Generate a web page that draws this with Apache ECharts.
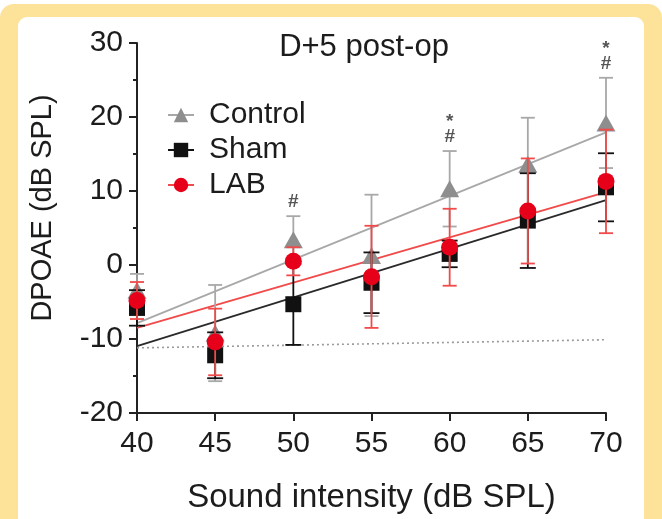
<!DOCTYPE html>
<html>
<head>
<meta charset="utf-8">
<script src="https://cdn.jsdelivr.net/npm/echarts@6/dist/echarts.min.js"></script>
<style>
html,body{margin:0;padding:0;background:#fff;}
#c{width:662px;height:519px;}
</style>
</head>
<body>
<div id="c"></div>
<script>
// ---- data ----
var intensity   = [40, 45, 50, 55, 60, 65, 70];
var controlMean = [-3.4, -9.2, 3.4, 1.3, 10.3, 13.6, 19.2];
var controlSD   = [2.2, 6.5, 3.2, 8.2, 5.1, 6.3, 6.1];
var shamMean    = [-5.8, -12.2, -5.3, -2.4, 1.5, 6.0, 10.5];
var shamSD      = [2.4, 3.1, 5.5, 4.1, 1.8, 6.4, 4.6];
var labMean     = [-4.8, -10.4, 0.5, -1.6, 2.4, 7.3, 11.3];
var labSD       = [2.5, 4.5, 1.9, 6.9, 5.2, 7.1, 7.0];
var noiseX      = [40, 70];
var noiseY      = [-11.2, -10.1];
var sigX        = [50, 60, 70];
var sigText     = ['#', '*\n#', '*\n#'];
var yTicks      = [-20, -10, 0, 10, 20, 30];
var xTicks      = [40, 45, 50, 55, 60, 65, 70];

var FONT = '"Liberation Sans", Arial, Helvetica, sans-serif';
var TXT = '#1c1c1c';

function fit(xs, ys) {
  var n = xs.length, mx = 0, my = 0;
  for (var i = 0; i < n; i++) { mx += xs[i]; my += ys[i]; }
  mx /= n; my /= n;
  var sxy = 0, sxx = 0;
  for (var j = 0; j < n; j++) { sxy += (xs[j]-mx)*(ys[j]-my); sxx += (xs[j]-mx)*(xs[j]-mx); }
  var b = sxy / sxx, a = my - b*mx;
  var x0 = xs[0], x1 = xs[n-1];
  return [[x0, a + b*x0], [x1, a + b*x1]];
}
function pairs(xs, ys) { return xs.map(function (x, i) { return [x, ys[i]]; }); }
function triples(xs, m, s) { return xs.map(function (x, i) { return [x, m[i], s[i]]; }); }

function errRender(color, capW, lw) {
  return function (params, api) {
    var x = api.value(0), m = api.value(1), s = api.value(2);
    var p1 = api.coord([x, m + s]), p2 = api.coord([x, m - s]);
    var hw = capW / 2;
    var st = { stroke: color, lineWidth: lw };
    return { type: 'group', children: [
      { type: 'line', shape: { x1: p1[0], y1: p1[1], x2: p2[0], y2: p2[1] }, style: st },
      { type: 'line', shape: { x1: p1[0]-hw, y1: p1[1], x2: p1[0]+hw, y2: p1[1] }, style: st },
      { type: 'line', shape: { x1: p2[0]-hw, y1: p2[1], x2: p2[0]+hw, y2: p2[1] }, style: st }
    ]};
  };
}

var C_GRAY = '#8e8e8e', C_GRAY_L = '#a8a8a8';
var C_BLACK = '#111111';
var C_RED = '#e60019', C_RED_L = '#f04a4a';

var sigData = sigX.map(function (x, i) {
  var k = intensity.indexOf(x);
  return { value: [x, controlMean[k] + controlSD[k]], txt: sigText[i] };
});

var chart = echarts.init(document.getElementById('c'), null, { renderer: 'canvas' });
chart.setOption({
  animation: false,
  backgroundColor: '#ffffff',
  graphic: [
    { type: 'rect', z: -10, silent: true, shape: { x: 0, y: 4, width: 662, height: 540, r: 14 }, style: { fill: '#fde29a' } },
    { type: 'rect', z: -9, silent: true, shape: { x: 18, y: 17, width: 626, height: 540, r: 9 }, style: { fill: '#ffffff' } }
  ],
  title: {
    text: 'D+5 post-op', left: 364, top: 32, textAlign: 'center', padding: 0,
    textStyle: { fontFamily: FONT, fontSize: 31, fontWeight: 'normal', color: TXT }
  },
  legend: {
    orient: 'vertical', left: 167, top: 100, itemGap: 5, itemWidth: 26, itemHeight: 18, padding: 0,
    textStyle: { fontFamily: FONT, fontSize: 30, color: TXT, padding: [0, 0, 0, 10] },
    data: [
      { name: 'Control', lineStyle: { color: C_GRAY_L, width: 2, opacity: 1 } },
      { name: 'Sham', lineStyle: { color: C_BLACK, width: 2, opacity: 1 } },
      { name: 'LAB', lineStyle: { color: C_RED_L, width: 2, opacity: 1 } }
    ],
    selectedMode: false
  },
  grid: { left: 137, right: 56, top: 43, bottom: 106, containLabel: false },
  xAxis: {
    type: 'value', min: 40, max: 70, interval: 5,
    name: 'Sound intensity (dB SPL)', nameLocation: 'middle', nameGap: 68,
    nameTextStyle: { fontFamily: FONT, fontSize: 33, color: TXT },
    axisLine: { onZero: false, lineStyle: { color: '#222', width: 2 } },
    axisTick: { show: true, length: 8, inside: false, lineStyle: { color: '#222', width: 2 } },
    axisLabel: { margin: 16, fontFamily: FONT, fontSize: 30, color: TXT,
      formatter: function (v) { return xTicks.indexOf(v) >= 0 ? String(v) : ''; } },
    splitLine: { show: false }
  },
  yAxis: {
    type: 'value', min: -20, max: 30, interval: 10,
    name: 'DPOAE (dB SPL)', nameLocation: 'middle', nameGap: 80,
    nameTextStyle: { fontFamily: FONT, fontSize: 29, color: TXT, padding: [0, 0, 0, 40] },
    axisLine: { onZero: false, lineStyle: { color: '#222', width: 2 } },
    axisTick: { show: true, length: 8, inside: false, lineStyle: { color: '#222', width: 2 } },
    minorTick: { show: true, splitNumber: 2, length: 4, lineStyle: { color: '#222', width: 2 } },
    axisLabel: { margin: 14, fontFamily: FONT, fontSize: 30, color: TXT,
      formatter: function (v) { return yTicks.indexOf(v) >= 0 ? String(v) : ''; } },
    splitLine: { show: false }
  },
  series: [
    { name: 'noise', type: 'line', data: pairs(noiseX, noiseY), showSymbol: false, symbol: 'none', z: 1,
      lineStyle: { color: '#9a9a9a', width: 1.6, type: [2, 3] }, silent: true },
    { name: 'fitC', type: 'line', data: fit(intensity, controlMean), symbol: 'none', z: 1,
      lineStyle: { color: C_GRAY_L, width: 1.8 }, silent: true },
    { name: 'fitS', type: 'line', data: fit(intensity, shamMean), symbol: 'none', z: 1,
      lineStyle: { color: '#2a2a2a', width: 1.8 }, silent: true },
    { name: 'fitL', type: 'line', data: fit(intensity, labMean), symbol: 'none', z: 1,
      lineStyle: { color: C_RED_L, width: 1.8 }, silent: true },

    { name: 'errC', type: 'custom', z: 2, data: triples(intensity, controlMean, controlSD),
      renderItem: errRender(C_GRAY_L, 14, 1.8), silent: true },
    { name: 'Control', type: 'line', z: 3, data: pairs(intensity, controlMean),
      symbol: 'triangle', symbolSize: [19, 17], showAllSymbol: true,
      itemStyle: { color: C_GRAY }, lineStyle: { width: 0, opacity: 0 } },

    { name: 'errS', type: 'custom', z: 4, data: triples(intensity, shamMean, shamSD),
      renderItem: errRender(C_BLACK, 16, 1.8), silent: true },
    { name: 'Sham', type: 'line', z: 5, data: pairs(intensity, shamMean),
      symbol: 'rect', symbolSize: 16, showAllSymbol: true,
      itemStyle: { color: C_BLACK }, lineStyle: { width: 0, opacity: 0 } },

    { name: 'errL', type: 'custom', z: 6, data: triples(intensity, labMean, labSD),
      renderItem: errRender(C_RED_L, 14, 1.8), silent: true },
    { name: 'LAB', type: 'line', z: 7, data: pairs(intensity, labMean),
      symbol: 'circle', symbolSize: 17, showAllSymbol: true,
      itemStyle: { color: C_RED }, lineStyle: { width: 0, opacity: 0 } },

    { name: 'sig', type: 'scatter', z: 8, data: sigData, symbolSize: 1,
      itemStyle: { color: 'rgba(0,0,0,0)' }, silent: true,
      label: { show: true, position: 'top', distance: 6, fontFamily: FONT, fontSize: 19, fontWeight: 'bold',
        lineHeight: 15, color: '#2a2a2a', formatter: function (p) { return p.data.txt; } } }
  ]
});
</script>
</body>
</html>
